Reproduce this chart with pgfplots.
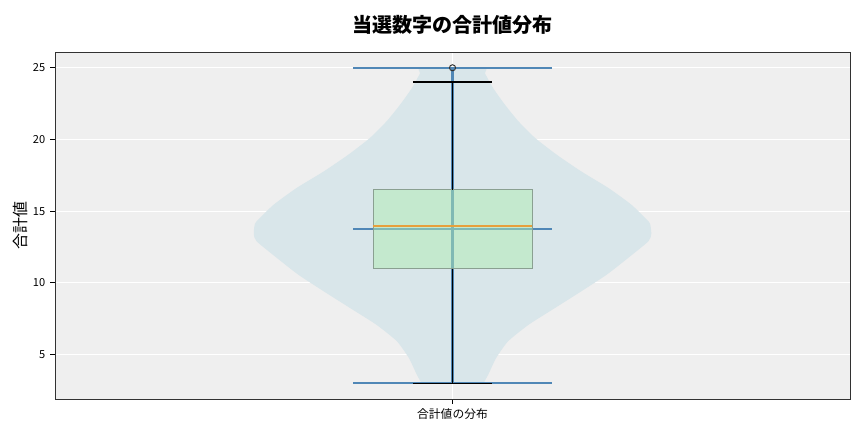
\documentclass[border=0pt]{standalone}
\usepackage{fontspec}
\setmainfont{Noto Sans CJK JP}
\usepackage{pgfplots}
\pgfplotsset{compat=1.18}

\definecolor{bgc}{RGB}{239,239,239}
\definecolor{violinc}{RGB}{217,230,234}
\definecolor{boxc}{RGB}{177,236,180}
\definecolor{boxedge}{RGB}{138,160,145}
\definecolor{bluec}{RGB}{80,135,182}
\definecolor{orangec}{RGB}{230,160,60}
\definecolor{framec}{RGB}{50,50,50}

\begin{document}
\begin{tikzpicture}
\useasboundingbox (0,0) rectangle (8.64in,4.32in);
\begin{axis}[
  at={(0.55in,0.33in)}, anchor=south west,
  width=7.95in, height=3.47in, scale only axis,
  xmin=0.5, xmax=1.5, ymin=1.9, ymax=26.1,
  axis background/.style={fill=bgc},
  axis line style={framec, line width=0.65pt},
  xtick={1}, xticklabels={合計値の分布},
  ytick={5,10,15,20,25},
  xtick pos=bottom, ytick pos=left,
  tick align=outside, major tick length=3.5pt,
  tick style={black, line width=0.6pt},
  grid=major, major grid style={white, line width=0.8pt},
  /pgf/number format/assume math mode=true,
  yticklabel style={font=\fontsize{8}{9}\selectfont},
  xticklabel style={font=\fontsize{8.5}{10}\selectfont},
  ylabel={合計値},
  ylabel style={at={(axis description cs:-0.044,0.5)}, anchor=center, font=\fontsize{11.5}{13}\selectfont},
  title={\textbf{当選数字の合計値分布}},
  title style={at={(axis description cs:0.5,1.055)}, anchor=center, yshift=0pt, font=\fontsize{14.5}{17}\selectfont},
]
% violin body
\addplot[fill=violinc, draw=none, smooth, tension=0.35] coordinates {
  (1.039,3) (1.045,3.61) (1.055,4.77) (1.070,5.93) (1.096,7.09) (1.129,8.25)
  (1.162,9.41) (1.194,10.57) (1.221,11.74) (1.2465,12.90) (1.250,13.4) (1.249,14.0)
  (1.2465,14.29) (1.225,15.45) (1.196,16.62) (1.162,17.77) (1.131,18.94) (1.104,20.10)
  (1.083,21.26) (1.066,22.42) (1.051,23.59) (1.041,24.6) (1.039,25)
  (0.961,25) (0.959,24.6) (0.949,23.59) (0.934,22.42) (0.917,21.26) (0.896,20.10) (0.869,18.94)
  (0.838,17.77) (0.804,16.62) (0.775,15.45) (0.7535,14.29) (0.751,14.0) (0.750,13.4)
  (0.7535,12.90) (0.779,11.74) (0.806,10.57) (0.838,9.41) (0.871,8.25) (0.904,7.09)
  (0.930,5.93) (0.945,4.77) (0.955,3.61) (0.961,3)
} -- cycle;
% violin extrema, mean and bar
\addplot[bluec, line width=1.5pt] coordinates {(0.875,25) (1.125,25)};
\addplot[bluec, line width=1.5pt] coordinates {(0.875,3) (1.125,3)};
\addplot[bluec, line width=1.5pt] coordinates {(0.875,13.78) (1.125,13.78)};
\addplot[bluec, line width=1.5pt] coordinates {(1,3) (1,25)};
% box
\addplot[fill=boxc, fill opacity=0.5, draw=boxedge, line width=0.7pt] coordinates {
  (0.9,11) (1.1,11) (1.1,16.5) (0.9,16.5)} -- cycle;
% whiskers and caps
\addplot[black, line width=0.9pt] coordinates {(1,16.5) (1,24)};
\addplot[black, line width=0.9pt] coordinates {(1,11) (1,3)};
\addplot[black, line width=0.9pt] coordinates {(0.95,24) (1.05,24)};
\addplot[black, line width=0.9pt] coordinates {(0.95,3) (1.05,3)};
% median
\addplot[orangec, line width=1.2pt] coordinates {(0.9,13.97) (1.1,13.97)};
% outlier
\addplot[only marks, mark=o, mark size=2.2pt, mark options={draw=framec, line width=0.7pt}] coordinates {(1,25)};
\end{axis}
\end{tikzpicture}
\end{document}
